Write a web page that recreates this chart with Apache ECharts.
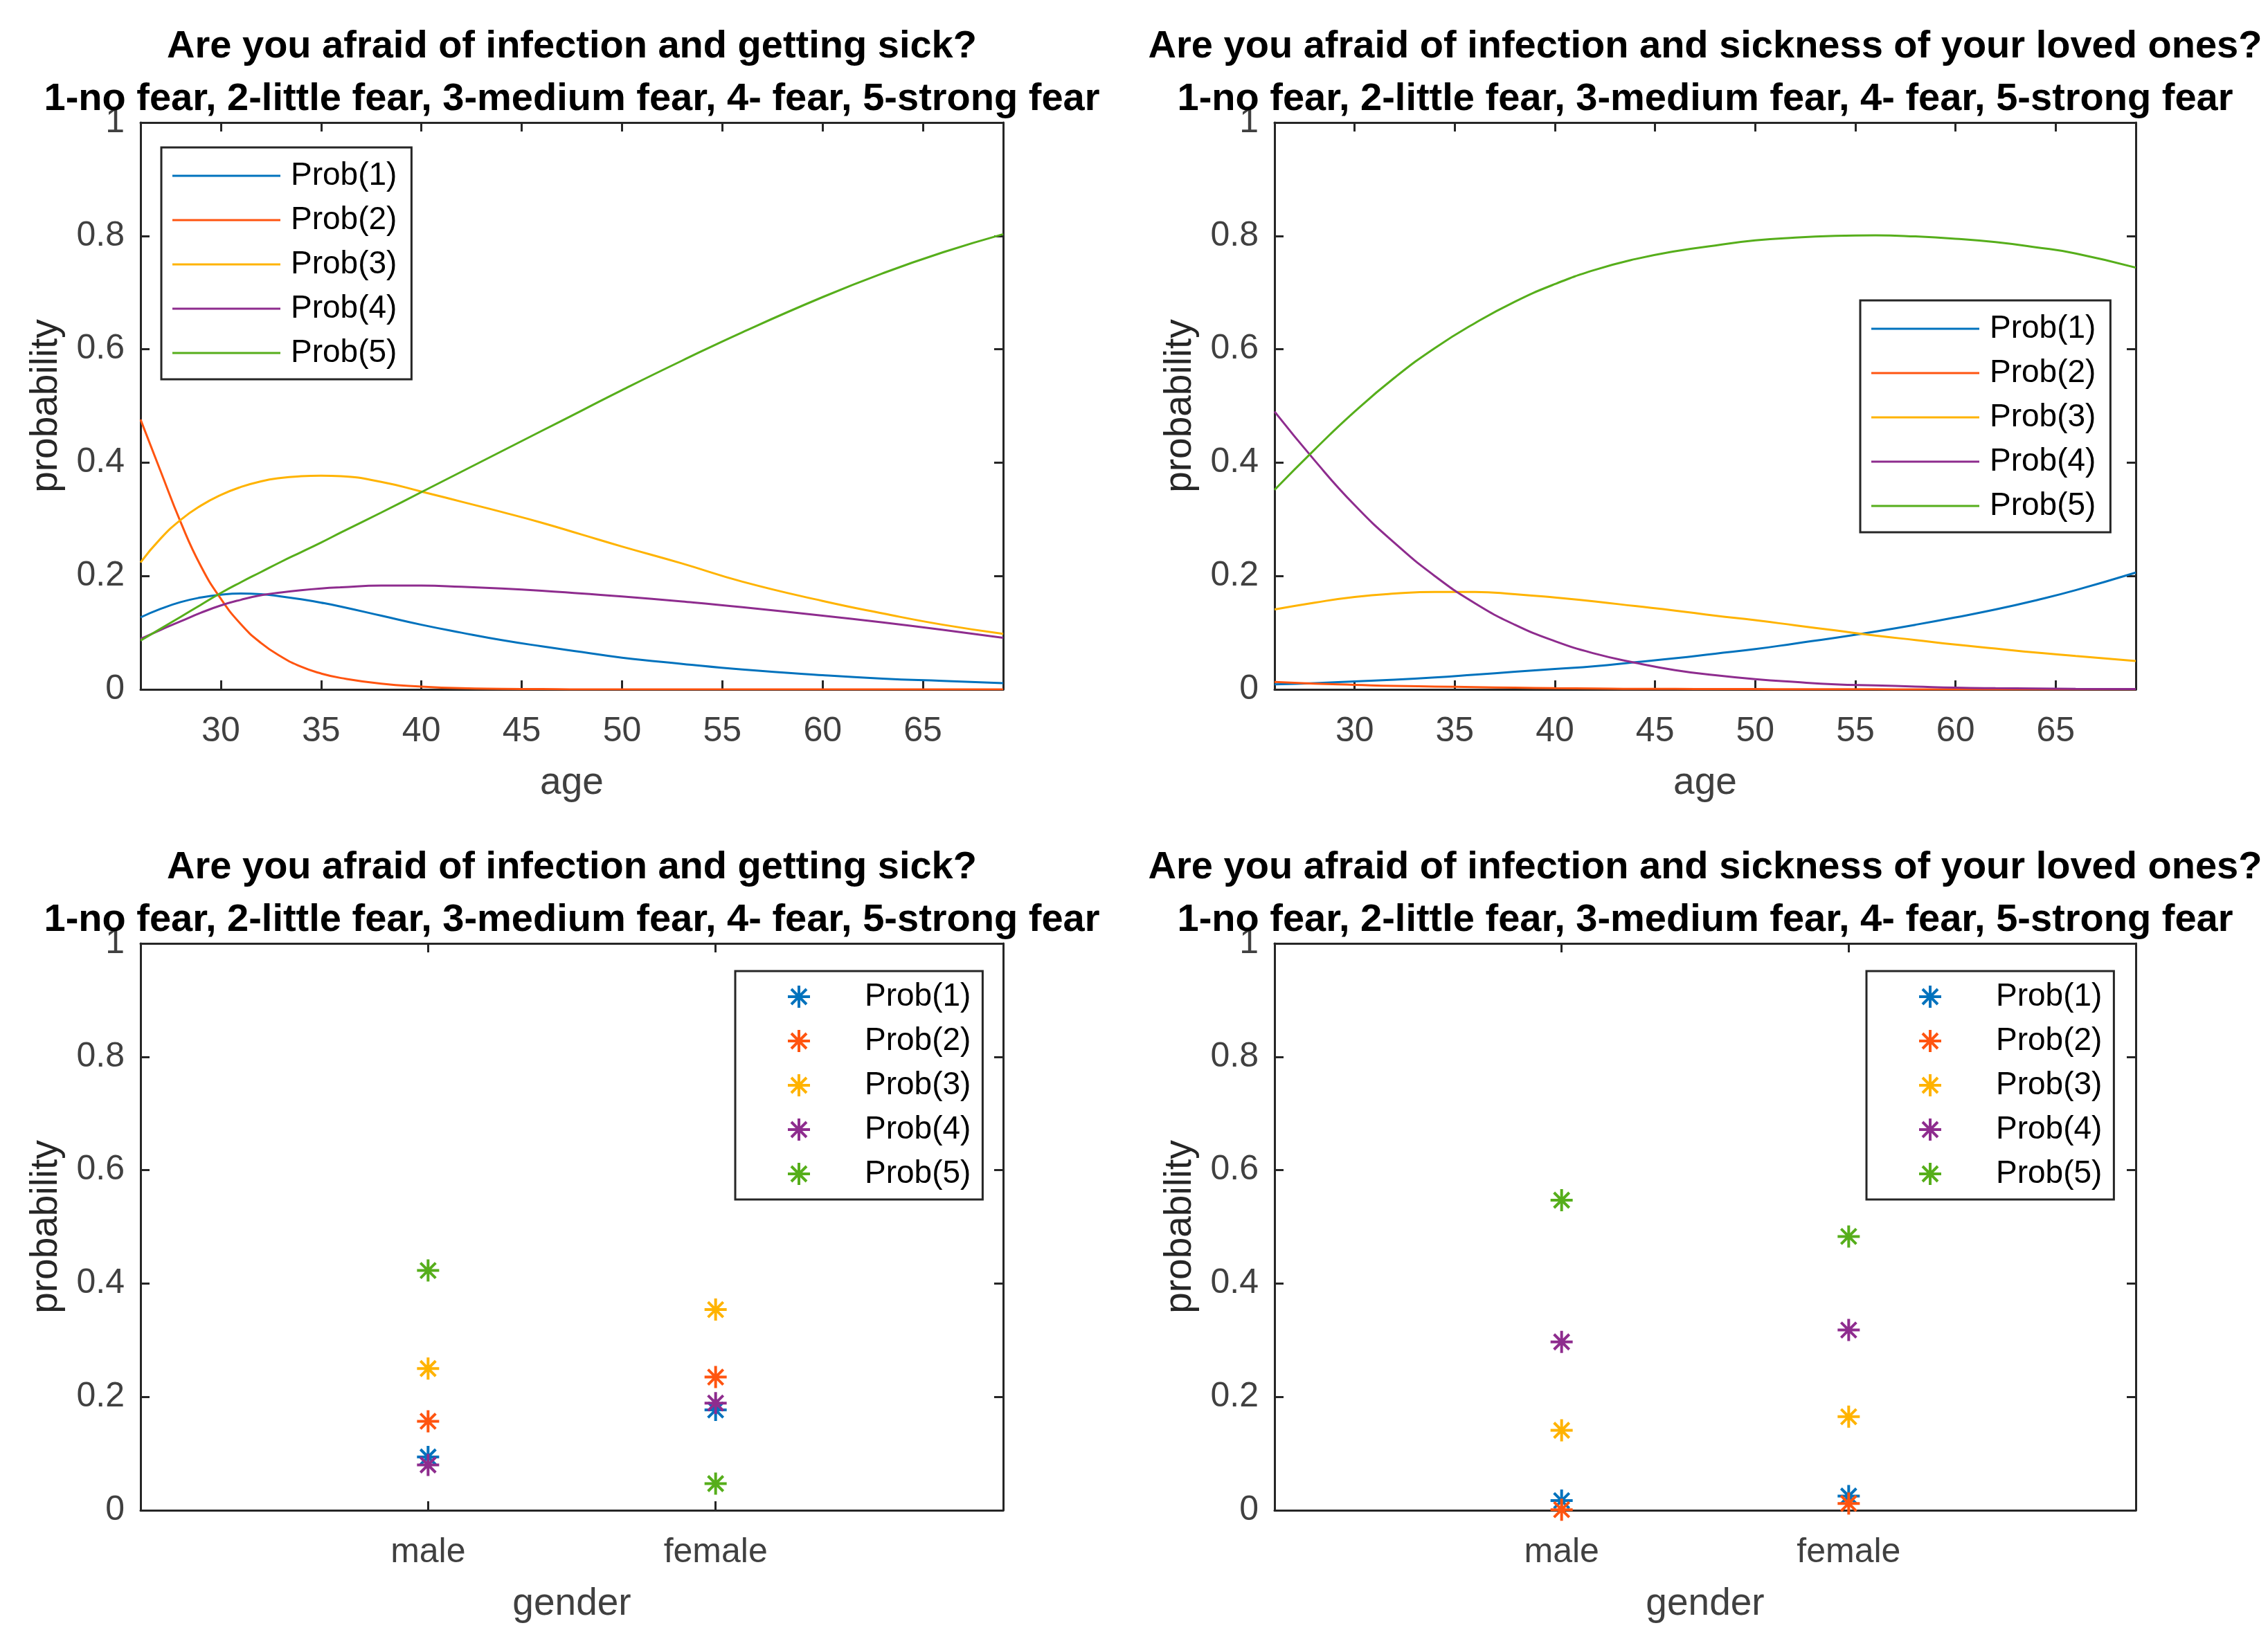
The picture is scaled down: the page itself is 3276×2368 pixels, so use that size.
<!DOCTYPE html>
<html>
<head>
<meta charset="utf-8">
<script src="https://cdn.jsdelivr.net/npm/echarts@6/dist/echarts.min.js"></script>
<style>
html,body{margin:0;padding:0;background:#fff;}
#chart{width:3276px;height:2368px;}
</style>
</head>
<body>
<div id="chart"></div>
<script>
// ---------- data ----------
const probNames = ['Prob(1)', 'Prob(2)', 'Prob(3)', 'Prob(4)', 'Prob(5)'];
const ageTicks = [30, 35, 40, 45, 50, 55, 60, 65];
const genders = ['male', 'female'];

const titleSick = 'Are you afraid of infection and getting sick?\n1-no fear, 2-little fear, 3-medium fear, 4- fear, 5-strong fear';
const titleLoved = 'Are you afraid of infection and sickness of your loved ones?\n1-no fear, 2-little fear, 3-medium fear, 4- fear, 5-strong fear';

// Panel 1: own sickness vs age
const sickAges = [26,27,28,29,30,31,32,33,34,35,36,38,40,42,44,46,48,50,53,56,60,63,66,69];
const sickP1 = [0.127,0.142,0.154,0.162,0.167,0.169,0.168,0.164,0.159,0.153,0.146,0.130,0.114,0.100,0.087,0.076,0.066,0.056,0.045,0.035,0.025,0.019,0.015,0.011];
const sickP2 = [0.476,0.385,0.295,0.218,0.160,0.115,0.082,0.058,0.040,0.028,0.020,0.010,0.005,0.002,0.001,0.0005,0,0,0,0,0,0,0,0];
const sickP3 = [0.224,0.266,0.299,0.324,0.343,0.357,0.367,0.373,0.376,0.377,0.376,0.366,0.349,0.331,0.313,0.294,0.273,0.252,0.222,0.190,0.156,0.134,0.114,0.098];
const sickP4 = [0.089,0.105,0.120,0.135,0.148,0.158,0.166,0.171,0.175,0.178,0.180,0.183,0.183,0.181,0.178,0.174,0.169,0.164,0.155,0.145,0.130,0.118,0.105,0.091];
const sickP5 = [0.086,0.107,0.128,0.149,0.170,0.189,0.207,0.225,0.242,0.259,0.277,0.312,0.348,0.384,0.420,0.456,0.492,0.528,0.580,0.630,0.692,0.734,0.771,0.803];

// Panel 2: loved ones vs age
const lovedAges = [26,28,30,32,34,36,38,40,42,44,46,48,50,52,54,56,58,60,62,64,66,69];
const lovedP1 = [0.009,0.011,0.014,0.017,0.021,0.026,0.031,0.036,0.041,0.048,0.055,0.063,0.071,0.081,0.091,0.102,0.114,0.127,0.141,0.157,0.175,0.206];
const lovedP2 = [0.013,0.010,0.008,0.006,0.005,0.004,0.003,0.002,0.0015,0.001,0.001,0.0005,0.0005,0.0003,0.0002,0.0002,0.0001,0.0001,0,0,0,0];
const lovedP3 = [0.141,0.153,0.163,0.169,0.172,0.172,0.168,0.162,0.155,0.147,0.139,0.130,0.122,0.113,0.104,0.095,0.087,0.079,0.072,0.065,0.059,0.050];
const lovedP4 = [0.490,0.404,0.325,0.258,0.200,0.152,0.114,0.085,0.063,0.047,0.034,0.025,0.018,0.013,0.009,0.007,0.005,0.003,0.002,0.0015,0.001,0.0005];
const lovedP5 = [0.352,0.423,0.490,0.550,0.602,0.646,0.684,0.715,0.740,0.759,0.773,0.783,0.792,0.797,0.800,0.801,0.799,0.795,0.789,0.780,0.769,0.744];

// Panel 3: own sickness by gender [male, female]
const sickGenderP1 = [0.094, 0.177];
const sickGenderP2 = [0.157, 0.235];
const sickGenderP3 = [0.250, 0.354];
const sickGenderP4 = [0.080, 0.189];
const sickGenderP5 = [0.423, 0.047];

// Panel 4: loved ones by gender [male, female]
const lovedGenderP1 = [0.017, 0.025];
const lovedGenderP2 = [0.001, 0.012];
const lovedGenderP3 = [0.141, 0.165];
const lovedGenderP4 = [0.297, 0.318];
const lovedGenderP5 = [0.547, 0.483];

// ---------- style ----------
const colors = ['#0072BD', '#FF5410', '#FFB300', '#8E2C8E', '#56AE1B'];
const FONT = '"Liberation Sans", Arial, Helvetica, sans-serif';
const AX = '#262626';
const TICK = '#404040';

// asterisk polygons in a 32x32 box
const astPolys = [
  [[14,0],[18,0],[18,32],[14,32]],
  [[0,14],[32,14],[32,18],[0,18]],
  [[6.41,3.59],[28.41,25.59],[25.59,28.41],[3.59,6.41]],
  [[28.41,6.41],[6.41,28.41],[3.59,25.59],[25.59,3.59]]
];
function astPath(dx) {
  return astPolys.map(p => 'M' + p.map(q => (q[0] + dx).toFixed(2) + ',' + q[1].toFixed(2)).join(' L') + ' Z').join(' ');
}
const astSymbol = 'path://' + astPath(0);
const astLegendIcon = 'path://M0,16 L0.05,16 L0,16.05 Z ' + astPath(74) + ' M180,16 L179.95,16 L180,16.05 Z';
const lineLegendIcon = 'path://M0,0 L156,0 L156,3 L0,3 Z M166,0 L165.95,0 L166,0.05 Z';

// ---------- layout ----------
const grids = [
  {left: 203, top: 177, width: 1246, height: 819},
  {left: 1841, top: 177, width: 1244, height: 819},
  {left: 203, top: 1363, width: 1246, height: 819},
  {left: 1841, top: 1363, width: 1244, height: 819}
];

function xAxes(gi, min, max, ticks, fmt, name) {
  const common = {
    gridIndex: gi, type: 'value', min: min, max: max,
    axisLine: {show: true, onZero: false, lineStyle: {color: AX, width: 3}},
    axisTick: {show: true, inside: true, length: 13, lineStyle: {color: AX, width: 3}, customValues: ticks},
    splitLine: {show: false}
  };
  return [
    Object.assign({}, common, {
      position: 'bottom',
      axisLabel: {show: true, customValues: ticks, formatter: fmt, fontSize: 50, lineHeight: 50, color: TICK, fontFamily: FONT, margin: 36},
      name: name, nameLocation: 'middle', nameGap: 108,
      nameTextStyle: {fontSize: 55, lineHeight: 55, color: TICK, fontFamily: FONT}
    }),
    Object.assign({}, common, {position: 'top', axisLabel: {show: false}})
  ];
}
function yAxes(gi) {
  const common = {
    gridIndex: gi, type: 'value', min: 0, max: 1, interval: 0.2,
    axisLine: {show: true, onZero: false, lineStyle: {color: AX, width: 3}},
    axisTick: {show: true, inside: true, length: 13, lineStyle: {color: AX, width: 3}},
    splitLine: {show: false}
  };
  return [
    Object.assign({}, common, {
      position: 'left',
      axisLabel: {show: true, fontSize: 50, lineHeight: 50, color: TICK, fontFamily: FONT, margin: 23},
      name: 'probability', nameLocation: 'middle', nameGap: 109,
      nameTextStyle: {fontSize: 55, lineHeight: 55, color: AX, fontFamily: FONT}
    }),
    Object.assign({}, common, {position: 'right', axisLabel: {show: false}})
  ];
}

const genderFmt = v => genders[Math.round(v) - 1] || '';
const xAxis = [].concat(
  xAxes(0, 26, 69, ageTicks, v => String(v), 'age'),
  xAxes(1, 26, 69, ageTicks, v => String(v), 'age'),
  xAxes(2, 0, 3, genders.map((g, i) => i + 1), genderFmt, 'gender'),
  xAxes(3, 0, 3, genders.map((g, i) => i + 1), genderFmt, 'gender')
);
const yAxis = [].concat(yAxes(0), yAxes(1), yAxes(2), yAxes(3));

const series = [];
function addLines(gi, ages, arrs) {
  arrs.forEach((vals, k) => {
    series.push({
      type: 'line', name: probNames[k], xAxisIndex: gi * 2, yAxisIndex: gi * 2,
      data: ages.map((a, i) => [a, vals[i]]),
      smooth: true, showSymbol: false, symbol: 'none',
      lineStyle: {width: 3, color: colors[k]}, itemStyle: {color: colors[k]},
      emphasis: {disabled: true}, animation: false
    });
  });
}
function addScatter(gi, arrs) {
  arrs.forEach((vals, k) => {
    series.push({
      type: 'scatter', name: probNames[k], xAxisIndex: gi * 2, yAxisIndex: gi * 2,
      data: genders.map((g, i) => [i + 1, vals[i]]),
      symbol: astSymbol, symbolSize: 32,
      itemStyle: {color: colors[k], opacity: 1},
      emphasis: {disabled: true}, animation: false
    });
  });
}
addLines(0, sickAges, [sickP1, sickP2, sickP3, sickP4, sickP5]);
addLines(1, lovedAges, [lovedP1, lovedP2, lovedP3, lovedP4, lovedP5]);
addScatter(2, [sickGenderP1, sickGenderP2, sickGenderP3, sickGenderP4, sickGenderP5]);
addScatter(3, [lovedGenderP1, lovedGenderP2, lovedGenderP3, lovedGenderP4, lovedGenderP5]);

function legend(left, top, icon, iw, ih, pad) {
  return {
    left: left, top: top, orient: 'vertical', selectedMode: false,
    data: probNames.map(n => ({name: n, icon: icon})),
    itemWidth: iw, itemHeight: ih, itemGap: 14,
    padding: pad, backgroundColor: '#ffffff',
    borderColor: AX, borderWidth: 3, borderRadius: 0,
    textStyle: {fontSize: 46, lineHeight: 50, color: '#000000', fontFamily: FONT}
  };
}

const titles = [
  {text: titleSick, left: 826, top: 30},
  {text: titleLoved, left: 2463, top: 30},
  {text: titleSick, left: 826, top: 1216},
  {text: titleLoved, left: 2463, top: 1216}
].map(t => Object.assign(t, {
  textAlign: 'center', padding: 0,
  textStyle: {fontSize: 56, fontWeight: 'bold', lineHeight: 76, color: '#000000', fontFamily: FONT}
}));

const chart = echarts.init(document.getElementById('chart'), null, {renderer: 'canvas'});
chart.setOption({
  backgroundColor: '#ffffff',
  animation: false,
  title: titles,
  grid: grids,
  xAxis: xAxis,
  yAxis: yAxis,
  legend: [
    legend(233, 213, lineLegendIcon, 166, 3, [16, 21, 13, 16]),
    legend(2687, 434, lineLegendIcon, 166, 3, [16, 21, 13, 16]),
    legend(1062, 1403, astLegendIcon, 180, 32, [12, 17, 12, 2]),
    legend(2696, 1403, astLegendIcon, 180, 32, [12, 17, 12, 2])
  ],
  series: series
});
</script>
</body>
</html>
